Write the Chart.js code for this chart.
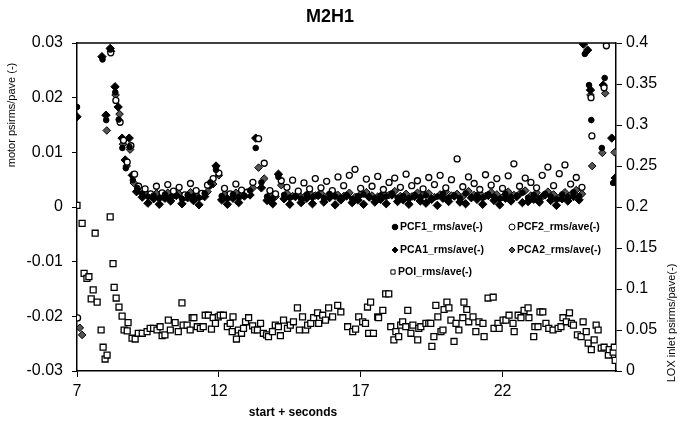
<!DOCTYPE html>
<html>
<head>
<meta charset="utf-8">
<script src="https://cdn.jsdelivr.net/npm/chart.js@4/dist/chart.umd.min.js"></script>
<style>
  html, body { margin: 0; padding: 0; background: #fff; }
  #wrap { width: 680px; height: 426px; }
</style>
</head>
<body>
<div id="wrap"><canvas id="chart" width="680" height="426"></canvas></div>
<script>
// axis ticks
const xTicks = [7, 12, 17, 22];

// sample times of the steady part (s)
const bandT = [9.3, 9.5, 9.7, 9.9, 10.1, 10.3, 10.5, 10.7, 10.9, 11.1, 11.3, 11.5, 11.7, 11.9, 12.1, 12.3, 12.5, 12.7, 12.9, 13.1,
  13.3, 13.5, 13.7, 13.9, 14.1, 14.3, 14.5, 14.7, 14.9, 15.1, 15.3, 15.5, 15.7, 15.9, 16.1, 16.3, 16.5, 16.7, 16.9, 17.1,
  17.3, 17.5, 17.7, 17.9, 18.1, 18.3, 18.5, 18.7, 18.9, 19.1, 19.3, 19.5, 19.7, 19.9, 20.1, 20.3, 20.5, 20.7, 20.9, 21.1,
  21.3, 21.5, 21.7, 21.9, 22.1, 22.3, 22.5, 22.7, 22.9, 23.1, 23.3, 23.5, 23.7, 23.9, 24.1, 24.3, 24.5, 24.7];
const bandT2 = [9.4, 9.6, 9.8, 10.0, 10.2, 10.4, 10.6, 10.8, 11.0, 11.2, 11.4, 11.6, 11.8, 12.0, 12.2, 12.4, 12.6, 12.8, 13.0, 13.2,
  13.4, 13.6, 13.8, 14.0, 14.2, 14.4, 14.6, 14.8, 15.0, 15.2, 15.4, 15.6, 15.8, 16.0, 16.2, 16.4, 16.6, 16.8, 17.0, 17.2,
  17.4, 17.6, 17.8, 18.0, 18.2, 18.4, 18.6, 18.8, 19.0, 19.2, 19.4, 19.6, 19.8, 20.0, 20.2, 20.4, 20.6, 20.8, 21.0, 21.2,
  21.4, 21.6, 21.8, 22.0, 22.2, 22.4, 22.6, 22.8, 23.0, 23.2, 23.4, 23.6, 23.8, 24.0, 24.2, 24.4, 24.6, 24.8];

// PCF1_rms/ave(-)
const pcf1StartT = [7.0, 7.9, 8.03, 8.18, 8.35, 8.47, 8.6, 8.72, 8.85, 8.97, 9.12];
const pcf1StartV = [0.0183, 0.027, 0.0159, 0.0288, 0.021, 0.016, 0.0108, 0.0071, 0.011, 0.0049, 0.0035];
const pcf1BandV = [0.0024, 0.0019, 0.0021, 0.0016, 0.0023, 0.0018, 0.0020, 0.0015, 0.0022, 0.0019,
  0.0017, 0.0025, 0.0045, 0.0068, 0.0020, 0.0016, 0.0023, 0.0018, 0.0021, 0.0030,
  0.0108, 0.0045, 0.0019, 0.0016, 0.0055, 0.0022, 0.0017, 0.0020, 0.0015, 0.0023,
  0.0018, 0.0021, 0.0016, 0.0024, 0.0019, 0.0017, 0.0022, 0.0015, 0.0020, 0.0023,
  0.0018, 0.0016, 0.0021, 0.0019, 0.0025, 0.0017, 0.0020, 0.0016, 0.0022, 0.0018,
  0.0021, 0.0015, 0.0019, 0.0024, 0.0017, 0.0020, 0.0016, 0.0025, 0.0018, 0.0021,
  0.0017, 0.0023, 0.0019, 0.0015, 0.0024, 0.0018, 0.0020, 0.0026, 0.0017, 0.0022,
  0.0016, 0.0024, 0.0019, 0.0014, 0.0023, 0.0018, 0.0027, 0.0020];
const pcf1EndT = [24.9, 25.05, 25.13, 25.5, 25.6, 25.9];
const pcf1EndV = [0.028, 0.0223, 0.0159, 0.0108, 0.0236, 0.0044];

// PCF2_rms/ave(-)
const pcf2StartT = [7.02, 8.19, 8.37, 8.52, 8.64, 8.77, 8.9, 9.03, 9.17];
const pcf2StartV = [-0.0203, 0.0282, 0.0195, 0.0155, 0.0122, 0.0082, 0.0112, 0.006, 0.0038];
const pcf2BandV = [0.0033, 0.0024, 0.0038, 0.0026, 0.0041, 0.0029, 0.0036, 0.0022, 0.0043, 0.0030,
  0.0025, 0.0040, 0.0052, 0.0062, 0.0034, 0.0024, 0.0042, 0.0031, 0.0027, 0.0045,
  0.0125, 0.0080, 0.0030, 0.0024, 0.0048, 0.0036, 0.0049, 0.0029, 0.0044, 0.0033,
  0.0052, 0.0035, 0.0047, 0.0030, 0.0055, 0.0039, 0.0058, 0.0069, 0.0034, 0.0051,
  0.0038, 0.0056, 0.0032, 0.0045, 0.0053, 0.0036, 0.0060, 0.0039, 0.0048, 0.0033,
  0.0054, 0.0041, 0.0058, 0.0035, 0.0050, 0.0088, 0.0037, 0.0055, 0.0043, 0.0032,
  0.0059, 0.0040, 0.0052, 0.0034, 0.0057, 0.0079, 0.0038, 0.0053, 0.0045, 0.0035,
  0.0058, 0.0073, 0.0039, 0.0061, 0.0077, 0.0042, 0.0054, 0.0036];
const pcf2EndT = [25.12, 25.15, 25.58, 25.66];
const pcf2EndV = [0.020, 0.013, 0.0218, 0.0295];

// PCA1_rms/ave(-)
const pca1StartT = [7.0, 7.88, 8.02, 8.17, 8.34, 8.45, 8.59, 8.7, 8.84, 8.95, 9.1];
const pca1StartV = [0.0165, 0.0275, 0.0168, 0.029, 0.022, 0.0183, 0.0126, 0.0086, 0.0126, 0.0058, 0.0028];
const pca1BandV = [0.0018, 0.0007, 0.0015, 0.0005, 0.0016, 0.0011, 0.0021, 0.0006, 0.0017, 0.0012,
  0.0004, 0.0019, 0.0040, 0.0075, 0.0013, 0.0005, 0.0016, 0.0008, 0.0020, 0.0022,
  0.0126, 0.0035, 0.0012, 0.0006, 0.0060, 0.0015, 0.0005, 0.0019, 0.0008, 0.0016,
  0.0006, 0.0021, 0.0009, 0.0017, 0.0004, 0.0013, 0.0020, 0.0008, 0.0013, 0.0005,
  0.0018, 0.0009, 0.0014, 0.0006, 0.0022, 0.0010, 0.0013, 0.0005, 0.0019, 0.0011,
  0.0007, 0.0014, 0.0003, 0.0016, 0.0010, 0.0020, 0.0009, 0.0006, 0.0017, 0.0014,
  0.0005, 0.0021, 0.0012, 0.0004, 0.0016, 0.0011, 0.0019, 0.0008, 0.0010, 0.0014,
  0.0009, 0.0022, 0.0012, 0.0003, 0.0015, 0.0011, 0.0019, 0.0013];
const pca1EndT = [24.85, 25.0, 25.1, 25.55, 25.85, 25.97];
const pca1EndV = [0.0298, 0.0287, 0.0214, 0.0223, 0.0126, 0.0053];

// PCA2_rms/ave(-)
const pca2StartT = [7.1, 7.18, 8.05, 8.2, 8.36, 8.5, 8.62, 8.75, 8.87, 9.0, 9.15];
const pca2StartV = [-0.0221, -0.0234, 0.014, 0.0285, 0.0205, 0.017, 0.0115, 0.0075, 0.0105, 0.0044, 0.003];
const pca2BandV = [0.0027, 0.0022, 0.0025, 0.0019, 0.0026, 0.0021, 0.0024, 0.0018, 0.0027, 0.0022,
  0.0020, 0.0028, 0.0042, 0.0058, 0.0023, 0.0019, 0.0026, 0.0021, 0.0024, 0.0035,
  0.0072, 0.0052, 0.0022, 0.0019, 0.0040, 0.0025, 0.0020, 0.0023, 0.0018, 0.0026,
  0.0021, 0.0025, 0.0019, 0.0028, 0.0022, 0.0020, 0.0026, 0.0018, 0.0023, 0.0027,
  0.0021, 0.0019, 0.0025, 0.0022, 0.0029, 0.0020, 0.0024, 0.0019, 0.0026, 0.0022,
  0.0025, 0.0018, 0.0023, 0.0028, 0.0021, 0.0024, 0.0019, 0.0029, 0.0022, 0.0025,
  0.0020, 0.0027, 0.0023, 0.0018, 0.0028, 0.0022, 0.0024, 0.0030, 0.0021, 0.0026,
  0.0019, 0.0028, 0.0023, 0.0017, 0.0027, 0.0022, 0.0031, 0.0024];
const pca2EndT = [25.1, 25.16, 25.52, 25.62, 25.95];
const pca2EndV = [0.0205, 0.0075, 0.0099, 0.0208, 0.010];

// POI_rms/ave(-)  (right axis)
const poiT = [7.0, 7.18, 7.25, 7.35, 7.42, 7.5, 7.57, 7.64, 7.71, 7.85, 7.92, 7.99, 8.06, 8.17, 8.27, 8.31, 8.38, 8.48, 8.59, 8.66,
  8.77, 8.8, 8.94, 9.05, 9.16, 9.3, 9.47, 9.58, 9.7, 9.82, 9.93, 10.0, 10.1, 10.22, 10.29, 10.46, 10.57, 10.7, 10.74, 10.88,
  10.99, 11.06, 11.12, 11.24, 11.35, 11.45, 11.52, 11.63, 11.74, 11.8, 11.88, 11.98, 12.05, 12.16, 12.3, 12.4, 12.47, 12.5, 12.62, 12.69,
  12.8, 12.87, 12.94, 13.05, 13.19, 13.26, 13.36, 13.47, 13.57, 13.68, 13.75, 13.89, 13.99, 14.1, 14.17, 14.28, 14.42, 14.52, 14.63, 14.77,
  14.84, 14.95, 15.06, 15.13, 15.24, 15.34, 15.48, 15.52, 15.66, 15.76, 15.87, 16.01, 16.19, 16.3, 16.54, 16.72, 16.82, 16.93, 17.07, 17.17,
  17.24, 17.28, 17.35, 17.45, 17.6, 17.63, 17.78, 17.88, 17.99, 18.06, 18.17, 18.24, 18.34, 18.41, 18.48, 18.59, 18.66, 18.77, 18.84, 19.01,
  19.05, 19.12, 19.3, 19.4, 19.47, 19.51, 19.58, 19.65, 19.72, 19.83, 19.9, 19.94, 20.04, 20.11, 20.18, 20.29, 20.36, 20.46, 20.6, 20.64,
  20.74, 20.81, 20.96, 21.06, 21.17, 21.31, 21.35, 21.49, 21.67, 21.7, 21.84, 21.88, 22.02, 22.12, 22.23, 22.37, 22.41, 22.55, 22.65, 22.76,
  22.9, 22.93, 23.1, 23.14, 23.25, 23.32, 23.42, 23.53, 23.63, 23.78, 23.96, 24.06, 24.13, 24.25, 24.36, 24.43, 24.5, 24.64, 24.77, 24.84,
  24.95, 25.02, 25.13, 25.23, 25.3, 25.37, 25.48, 25.58, 25.73, 25.76, 25.9, 25.94, 25.97];
const poiV = [0.202, 0.18, 0.119, 0.113, 0.115, 0.088, 0.099, 0.168, 0.084, 0.05, 0.029, 0.0146, 0.0195, 0.188, 0.131, 0.102, 0.089, 0.078, 0.067, 0.05,
  0.049, 0.059, 0.04, 0.039, 0.046, 0.046, 0.048, 0.052, 0.052, 0.05, 0.054, 0.043, 0.044, 0.062, 0.05, 0.059, 0.048, 0.083, 0.056, 0.056,
  0.05, 0.065, 0.065, 0.054, 0.052, 0.054, 0.068, 0.068, 0.051, 0.065, 0.058, 0.066, 0.068, 0.068, 0.054, 0.058, 0.048, 0.066, 0.039, 0.05,
  0.046, 0.052, 0.06, 0.065, 0.055, 0.05, 0.05, 0.058, 0.046, 0.044, 0.042, 0.048, 0.056, 0.054, 0.043, 0.062, 0.052, 0.056, 0.06, 0.077,
  0.05, 0.066, 0.05, 0.056, 0.058, 0.065, 0.071, 0.058, 0.068, 0.062, 0.077, 0.066, 0.08, 0.072, 0.054, 0.048, 0.051, 0.066, 0.06, 0.058,
  0.078, 0.046, 0.084, 0.046, 0.066, 0.065, 0.074, 0.094, 0.094, 0.054, 0.038, 0.048, 0.042, 0.056, 0.06, 0.054, 0.074, 0.046, 0.056, 0.038,
  0.052, 0.054, 0.058, 0.058, 0.058, 0.03, 0.042, 0.08, 0.066, 0.048, 0.05, 0.075, 0.084, 0.077, 0.062, 0.036, 0.058, 0.05, 0.065, 0.084,
  0.075, 0.06, 0.066, 0.048, 0.06, 0.058, 0.042, 0.089, 0.09, 0.052, 0.058, 0.052, 0.062, 0.062, 0.068, 0.058, 0.048, 0.068, 0.065, 0.074,
  0.077, 0.065, 0.042, 0.054, 0.054, 0.072, 0.072, 0.058, 0.052, 0.05, 0.052, 0.054, 0.065, 0.06, 0.071, 0.058, 0.056, 0.044, 0.042, 0.06,
  0.048, 0.034, 0.026, 0.038, 0.056, 0.05, 0.028, 0.029, 0.0195, 0.026, 0.023, 0.029, 0.013];

const FONT = "'Liberation Sans', Arial, sans-serif";

function pts(t, v) {
    return t.map((x, i) => ({ x: x, y: v[i] }));
}

// tick text like the original: 0.4 not 0.40
function plainTick(v) {
    return String(Number(v.toFixed(4)));
}

const series = [
    { label: 'PCF1_rms/ave(-)', data: pts(pcf1StartT.concat(bandT, pcf1EndT), pcf1StartV.concat(pcf1BandV, pcf1EndV)),
      yAxisID: 'y', pointStyle: 'circle', pointRadius: 2.8, backgroundColor: '#000', borderColor: '#000', borderWidth: 1 },
    { label: 'PCF2_rms/ave(-)', data: pts(pcf2StartT.concat(bandT2, pcf2EndT), pcf2StartV.concat(pcf2BandV, pcf2EndV)),
      yAxisID: 'y', pointStyle: 'circle', pointRadius: 3, backgroundColor: '#fff', borderColor: '#000', borderWidth: 1.3 },
    { label: 'PCA1_rms/ave(-)', data: pts(pca1StartT.concat(bandT, pca1EndT), pca1StartV.concat(pca1BandV, pca1EndV)),
      yAxisID: 'y', pointStyle: 'rectRot', pointRadius: 4.2, backgroundColor: '#000', borderColor: '#000', borderWidth: 1 },
    { label: 'PCA2_rms/ave(-)', data: pts(pca2StartT.concat(bandT2, pca2EndT), pca2StartV.concat(pca2BandV, pca2EndV)),
      yAxisID: 'y', pointStyle: 'rectRot', pointRadius: 3.8, backgroundColor: '#555', borderColor: '#000', borderWidth: 1 },
    { label: 'POI_rms/ave(-)', data: pts(poiT, poiV),
      yAxisID: 'y2', pointStyle: 'rect', pointRadius: 4.2, backgroundColor: '#fff', borderColor: '#000', borderWidth: 1.3 }
];

// titles, legend and frame drawn by hand to sit where the original has them
const decor = {
    id: 'decor',
    afterDraw(chart) {
        const ctx = chart.ctx;
        const a = chart.chartArea;
        ctx.save();
        // top frame line
        ctx.strokeStyle = '#000';
        ctx.lineWidth = 1.5;
        ctx.beginPath();
        ctx.moveTo(a.left, a.top);
        ctx.lineTo(a.right, a.top);
        ctx.stroke();

        ctx.fillStyle = '#000';
        ctx.textAlign = 'center';
        ctx.textBaseline = 'middle';
        ctx.font = 'bold 18px ' + FONT;
        ctx.fillText('M2H1', 330, 17);

        ctx.font = 'bold 12px ' + FONT;
        ctx.fillText('start + seconds', 293, 413);

        ctx.font = '11px ' + FONT;
        ctx.save();
        ctx.translate(12, 115);
        ctx.rotate(-Math.PI / 2);
        ctx.fillText('motor psirms/pave (-)', 0, 0);
        ctx.restore();

        ctx.save();
        ctx.translate(672, 323);
        ctx.rotate(-Math.PI / 2);
        ctx.fillText('LOX inlet psirms/pave(-)', 0, 0);
        ctx.restore();

        // legend
        const items = [
            [0, 395, 227], [1, 512, 227],
            [2, 395, 250], [3, 512, 250],
            [4, 393, 272]
        ];
        ctx.font = 'bold 10.5px ' + FONT;
        ctx.textAlign = 'left';
        ctx.lineWidth = 1;
        items.forEach(([i, x, y]) => {
            const s = series[i];
            ctx.fillStyle = s.backgroundColor;
            ctx.strokeStyle = '#000';
            Chart.helpers.drawPoint(ctx, {
                pointStyle: s.pointStyle,
                radius: Math.min(s.pointRadius, 3),
                borderWidth: 1
            }, x, y);
            ctx.fillStyle = '#000';
            ctx.fillText(s.label, x + 5, y);
        });
        ctx.restore();
    }
};

const tickFont = { family: FONT, size: 16 };

new Chart(document.getElementById('chart').getContext('2d'), {
    type: 'scatter',
    data: { datasets: series },
    options: {
        responsive: false,
        animation: false,
        layout: { padding: { top: 43, left: 0, right: 0, bottom: 0 } },
        plugins: {
            legend: { display: false },
            title: { display: false },
            tooltip: { enabled: false }
        },
        scales: {
            x: {
                type: 'linear',
                min: 7,
                max: 26,
                afterBuildTicks: s => { s.ticks = xTicks.map(v => ({ value: v })); },
                afterFit: s => { s.height = 55; },
                grid: { drawOnChartArea: false, color: '#000', tickLength: 6 },
                border: { color: '#000', width: 1.5 },
                ticks: { color: '#000', font: tickFont, padding: 5, maxRotation: 0 }
            },
            y: {
                position: 'left',
                min: -0.03,
                max: 0.03,
                afterFit: s => { s.width = 77; },
                grid: { drawOnChartArea: false, color: '#000', tickLength: 5 },
                border: { color: '#000', width: 1.5 },
                ticks: { stepSize: 0.01, color: '#000', font: tickFont, padding: 9, callback: plainTick }
            },
            y2: {
                position: 'right',
                min: 0,
                max: 0.4,
                afterFit: s => { s.width = 64; },
                grid: { drawOnChartArea: false, color: '#000', tickLength: 6 },
                border: { color: '#000', width: 1.5 },
                ticks: { stepSize: 0.05, color: '#000', font: tickFont, padding: 4, callback: plainTick }
            }
        }
    },
    plugins: [decor]
});
</script>
</body>
</html>
